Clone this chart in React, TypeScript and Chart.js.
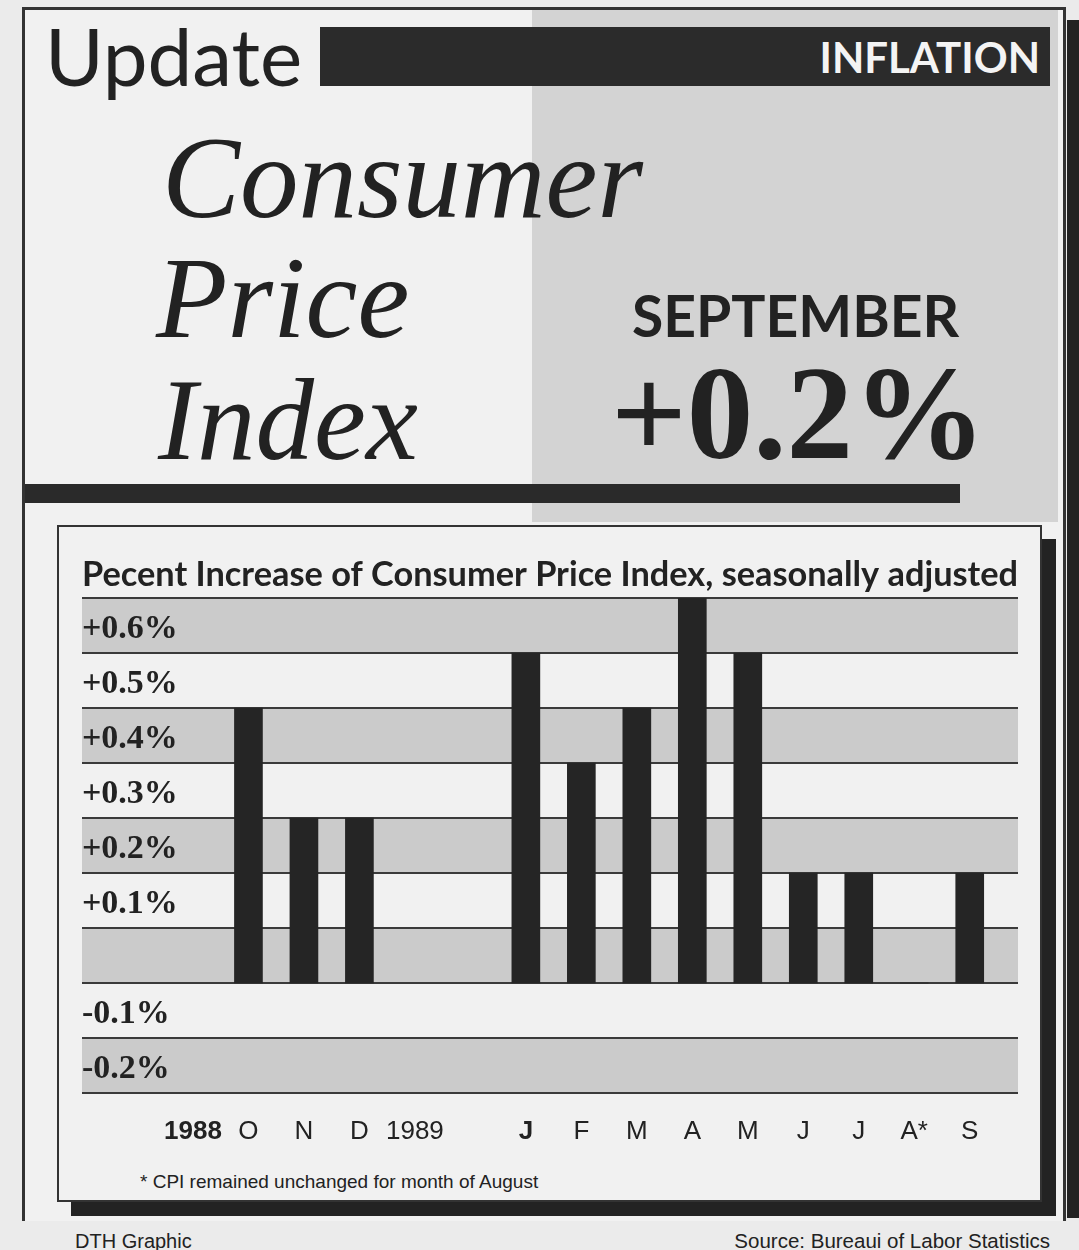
import React, { useEffect, useRef } from "react";
import { Chart, registerables } from "chart.js";

Chart.register(...registerables);

// ---- data ----
const categories = ["1988", "O", "N", "D", "1989", "", "J", "F", "M", "A", "M", "J", "J", "A*", "S"];
const cpiChange: (number | null)[] = [null, 0.5, 0.3, 0.3, null, null, 0.6, 0.4, 0.5, 0.7, 0.6, 0.2, 0.2, 0.0, 0.2];
const yTickValues = [-0.2, -0.1, 0, 0.1, 0.2, 0.3, 0.4, 0.5, 0.6, 0.7];
const yTickLabels = ["-0.2%", "-0.1%", "", "+0.1%", "+0.2%", "+0.3%", "+0.4%", "+0.5%", "+0.6%", ""];
const boldTickIndexes = [0, 6];

const chartTitle = "Pecent Increase of Consumer Price Index, seasonally adjusted";
const footnote = "* CPI remained unchanged for month of August";

// ---- styles ----
const TEXT = "#222222";
const BAR = "#252525";
const BAND_DARK = "#cbcbcb";
const GRID = "#3a3a3a";
const PAGE_BG = "#ebebeb";
const PANEL_BG = "#f1f1f1";
const SHADE = "#d3d3d3";

const bandPlugin = {
  id: "bands",
  beforeDraw(chart: any) {
    const { ctx, chartArea: a } = chart;
    const y = chart.scales.y;
    const vals: number[] = y.ticks.map((t: any) => t.value).sort((p: number, q: number) => p - q);
    ctx.save();
    ctx.fillStyle = BAND_DARK;
    for (let i = 0; i < vals.length - 1; i++) {
      const lo = vals[i];
      const hi = vals[i + 1];
      if (Math.round(lo * 10) % 2 === 0) {
        const y0 = y.getPixelForValue(lo);
        const y1 = y.getPixelForValue(hi);
        ctx.fillRect(a.left, y1, a.right - a.left, y0 - y1);
      }
    }
    ctx.strokeStyle = GRID;
    ctx.lineWidth = 2;
    for (const v of vals) {
      const py = Math.round(y.getPixelForValue(v));
      ctx.beginPath();
      ctx.moveTo(a.left, py);
      ctx.lineTo(a.right, py);
      ctx.stroke();
    }
    ctx.restore();
  },
};

function abs(left: number, top: number, extra: React.CSSProperties = {}): React.CSSProperties {
  return { position: "absolute", left, top, lineHeight: 1, whiteSpace: "nowrap", margin: 0, ...extra };
}

export default function App() {
  const ref = useRef<HTMLCanvasElement>(null);

  useEffect(() => {
    const points = cpiChange
      .map((v, i) => (v === null ? null : { x: i, y: v }))
      .filter((p) => p !== null) as { x: number; y: number }[];

    const chart = new Chart(ref.current as HTMLCanvasElement, {
      type: "bar",
      data: {
        datasets: [
          {
            data: points as any,
            backgroundColor: BAR,
            borderWidth: 0,
            barThickness: 28,
          },
        ],
      },
      options: {
        animation: false,
        responsive: false,
        devicePixelRatio: 1,
        events: [],
        layout: { padding: { left: 23, right: 23, top: 27.3, bottom: 0 } },
        plugins: {
          legend: { display: false },
          tooltip: { enabled: false },
          title: {
            display: true,
            text: chartTitle,
            align: "start",
            color: TEXT,
            font: { family: "Lato", size: 34.5, weight: "bold" },
            padding: { top: 0, bottom: 2.3 },
          },
        },
        scales: {
          x: {
            type: "linear",
            offset: false,
            min: -2,
            max: 14.87,
            grid: { display: false, drawTicks: false, offset: false },
            border: { display: false },
            afterFit: (s: any) => {
              s.height = 64;
            },
            ticks: {
              stepSize: 1,
              includeBounds: false,
              autoSkip: false,
              maxTicksLimit: 100,
              maxRotation: 0,
              minRotation: 0,
              padding: 23,
              color: TEXT,
              font: (ctx: any) => ({
                family: "'Liberation Sans', Arial, sans-serif",
                size: 26,
                weight: ctx.tick && boldTickIndexes.includes(ctx.tick.value) ? "bold" : "normal",
              }),
              callback: (v: any) => (Number.isInteger(v) && categories[v] !== undefined ? categories[v] : ""),
            },
          },
          y: {
            type: "linear",
            min: yTickValues[0],
            max: yTickValues[yTickValues.length - 1],
            grid: { display: false, drawTicks: false },
            border: { display: false },
            afterFit: (s: any) => {
              s.width = 0;
            },
            ticks: {
              stepSize: 0.1,
              autoSkip: false,
              mirror: true,
              padding: 0,
              labelOffset: -24,
              color: TEXT,
              font: { family: "'Liberation Serif', 'Times New Roman', serif", size: 34, weight: "bold" },
              callback: (v: any) => {
                const idx = Math.round((Number(v) - yTickValues[0]) * 10);
                return yTickLabels[idx] ?? "";
              },
            },
          },
        },
      },
      plugins: [bandPlugin],
    });
    return () => chart.destroy();
  }, []);

  return (
    <div
      style={{
        position: "absolute",
        left: 0,
        top: 0,
        width: 1079,
        height: 1250,
        background: PAGE_BG,
        overflow: "hidden",
        color: TEXT,
      }}
    >
      {/* outer frame */}
      <div
        style={{
          position: "absolute",
          left: 22,
          top: 7,
          width: 1038,
          height: 1211,
          borderLeft: "3px solid #333",
          borderTop: "3px solid #333",
          borderRight: "3px solid #333",
          background: PANEL_BG,
        }}
      />
      <div style={{ position: "absolute", left: 1067, top: 20, width: 12, height: 1198, background: "#222" }} />
      {/* shaded header half */}
      <div style={{ position: "absolute", left: 532, top: 10, width: 526, height: 512, background: SHADE }} />
      {/* black band */}
      <div style={{ position: "absolute", left: 320, top: 27, width: 730, height: 59, background: "#2b2b2b" }} />
      <div
        style={abs(0, 36, {
          left: undefined,
          right: 39,
          fontFamily: "Lato, sans-serif",
          fontWeight: 700,
          fontSize: 42,
          color: "#f4f4f4",
        })}
      >
        INFLATION
      </div>
      <div style={abs(45, 15, { fontFamily: "Lato, sans-serif", fontWeight: 400, fontSize: 80 })}>Update</div>

      <div style={abs(162, 119, { fontFamily: "'Liberation Serif', serif", fontStyle: "italic", fontSize: 117 })}>
        Consumer
      </div>
      <div style={abs(156, 239, { fontFamily: "'Liberation Serif', serif", fontStyle: "italic", fontSize: 117 })}>
        Price
      </div>
      <div style={abs(158, 361, { fontFamily: "'Liberation Serif', serif", fontStyle: "italic", fontSize: 117 })}>
        Index
      </div>

      <div style={abs(632, 287, { fontFamily: "Lato, sans-serif", fontWeight: 700, fontSize: 57 })}>SEPTEMBER</div>
      <div style={abs(611, 347, { fontFamily: "'Liberation Serif', serif", fontWeight: 700, fontSize: 133 })}>
        +0.2%
      </div>

      {/* thick rule under header */}
      <div style={{ position: "absolute", left: 25, top: 484, width: 935, height: 19, background: "#2a2a2a" }} />

      {/* chart box */}
      <div
        style={{
          position: "absolute",
          left: 57,
          top: 525,
          width: 981,
          height: 673,
          border: "2px solid #333",
          background: PANEL_BG,
          boxShadow: "14px 14px 0 0 #232323",
        }}
      />
      <canvas
        ref={ref}
        width={982}
        height={630}
        style={{ position: "absolute", left: 59, top: 527, width: 982, height: 630 }}
      />
      <div style={abs(140, 1172, { fontFamily: "'Liberation Sans', Arial, sans-serif", fontSize: 19 })}>{footnote}</div>

      <div style={abs(75, 1231, { fontFamily: "'Liberation Sans', Arial, sans-serif", fontSize: 20 })}>DTH Graphic</div>
      <div
        style={abs(0, 1231, {
          left: undefined,
          right: 29,
          fontFamily: "'Liberation Sans', Arial, sans-serif",
          fontSize: 20.5,
        })}
      >
        Source: Bureaui of Labor Statistics
      </div>
    </div>
  );
}
